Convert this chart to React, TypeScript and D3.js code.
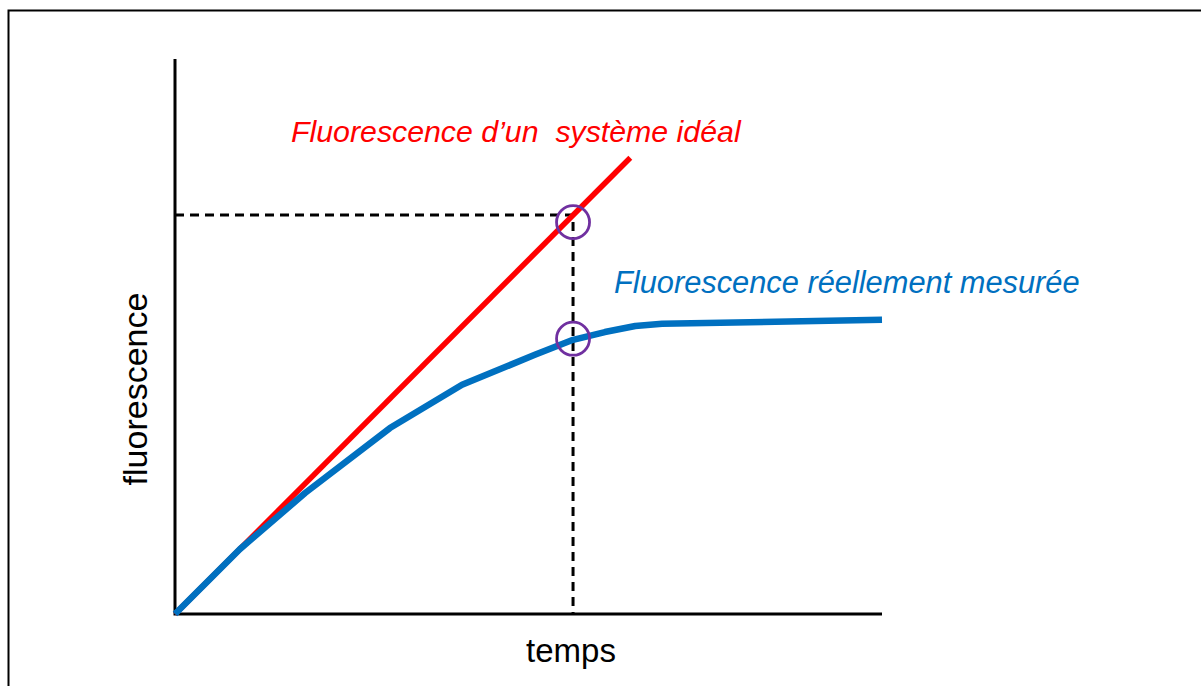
import React from "react";
import * as d3 from "d3";

// Data (time units, fluorescence units)
const idealT = [0, 6.44];
const idealF = [0, 8.22];
const measuredT = [0, 0.92, 1.84, 3.04, 4.06, 5.09, 5.63, 6.08, 6.51, 6.89, 10];
const measuredF = [0, 1.17, 2.18, 3.35, 4.13, 4.67, 4.94, 5.08, 5.19, 5.23, 5.3];
const markerT = 5.63;
const markerIdealF = 7.19;
const circleF = [7.06, 4.96];
const idealLabel = "Fluorescence d\u2019un  système idéal";
const measuredLabel = "Fluorescence réellement mesurée";
const xLabel = "temps";
const yLabel = "fluorescence";

const W = 1201;
const H = 686;

export default function App() {
  const x = d3.scaleLinear().domain([0, 10]).range([175, 882]);
  const y = d3.scaleLinear().domain([0, 10]).range([614, 59]);

  const line = d3
    .line<[number, number]>()
    .x((d) => x(d[0]))
    .y((d) => y(d[1]));

  const ideal: [number, number][] = idealT.map((t, i) => [t, idealF[i]]);
  const measured: [number, number][] = measuredT.map((t, i) => [t, measuredF[i]]);

  const font = "'Liberation Sans', Arial, sans-serif";

  return (
    <svg
      width={W}
      height={H}
      style={{ position: "absolute", left: 0, top: 0, background: "#fff" }}
    >
      {/* frame */}
      <path d={`M8.5,${H} V10.5 H${W}`} fill="none" stroke="#000" strokeWidth={2} />

      {/* dashed guides */}
      <path
        d={`M${x(0)},${y(markerIdealF)} H${x(markerT)} V${y(0)}`}
        fill="none"
        stroke="#000"
        strokeWidth={3}
        strokeDasharray="9 6"
      />

      {/* axes */}
      <path
        d={`M${x(0)},${y(10)} V${y(0)} H${x(10)}`}
        fill="none"
        stroke="#000"
        strokeWidth={3}
      />

      {/* ideal line */}
      <path d={line(ideal) || ""} fill="none" stroke="#FF0000" strokeWidth={5.5} />
      {/* measured line */}
      <path
        d={line(measured) || ""}
        fill="none"
        stroke="#0070C0"
        strokeWidth={6.5}
        strokeLinejoin="round"
      />

      {/* circles */}
      {circleF.map((f, i) => (
        <circle
          key={i}
          cx={x(markerT)}
          cy={y(f)}
          r={16.5}
          fill="none"
          stroke="#7030A0"
          strokeWidth={2.8}
        />
      ))}

      {/* labels */}
      <text
        x={291}
        y={142}
        fill="#FF0000"
        fontFamily={font}
        fontStyle="italic"
        fontSize={30.3}
        style={{ whiteSpace: "pre" }}
      >
        {idealLabel}
      </text>
      <text
        x={614}
        y={293}
        fill="#0070C0"
        fontFamily={font}
        fontStyle="italic"
        fontSize={30.8}
      >
        {measuredLabel}
      </text>
      <text
        x={571}
        y={662}
        textAnchor="middle"
        fill="#000"
        fontFamily={font}
        fontSize={33}
      >
        {xLabel}
      </text>
      <text
        transform={`translate(147,389) rotate(-90)`}
        textAnchor="middle"
        fill="#000"
        fontFamily={font}
        fontSize={34}
      >
        {yLabel}
      </text>
    </svg>
  );
}
